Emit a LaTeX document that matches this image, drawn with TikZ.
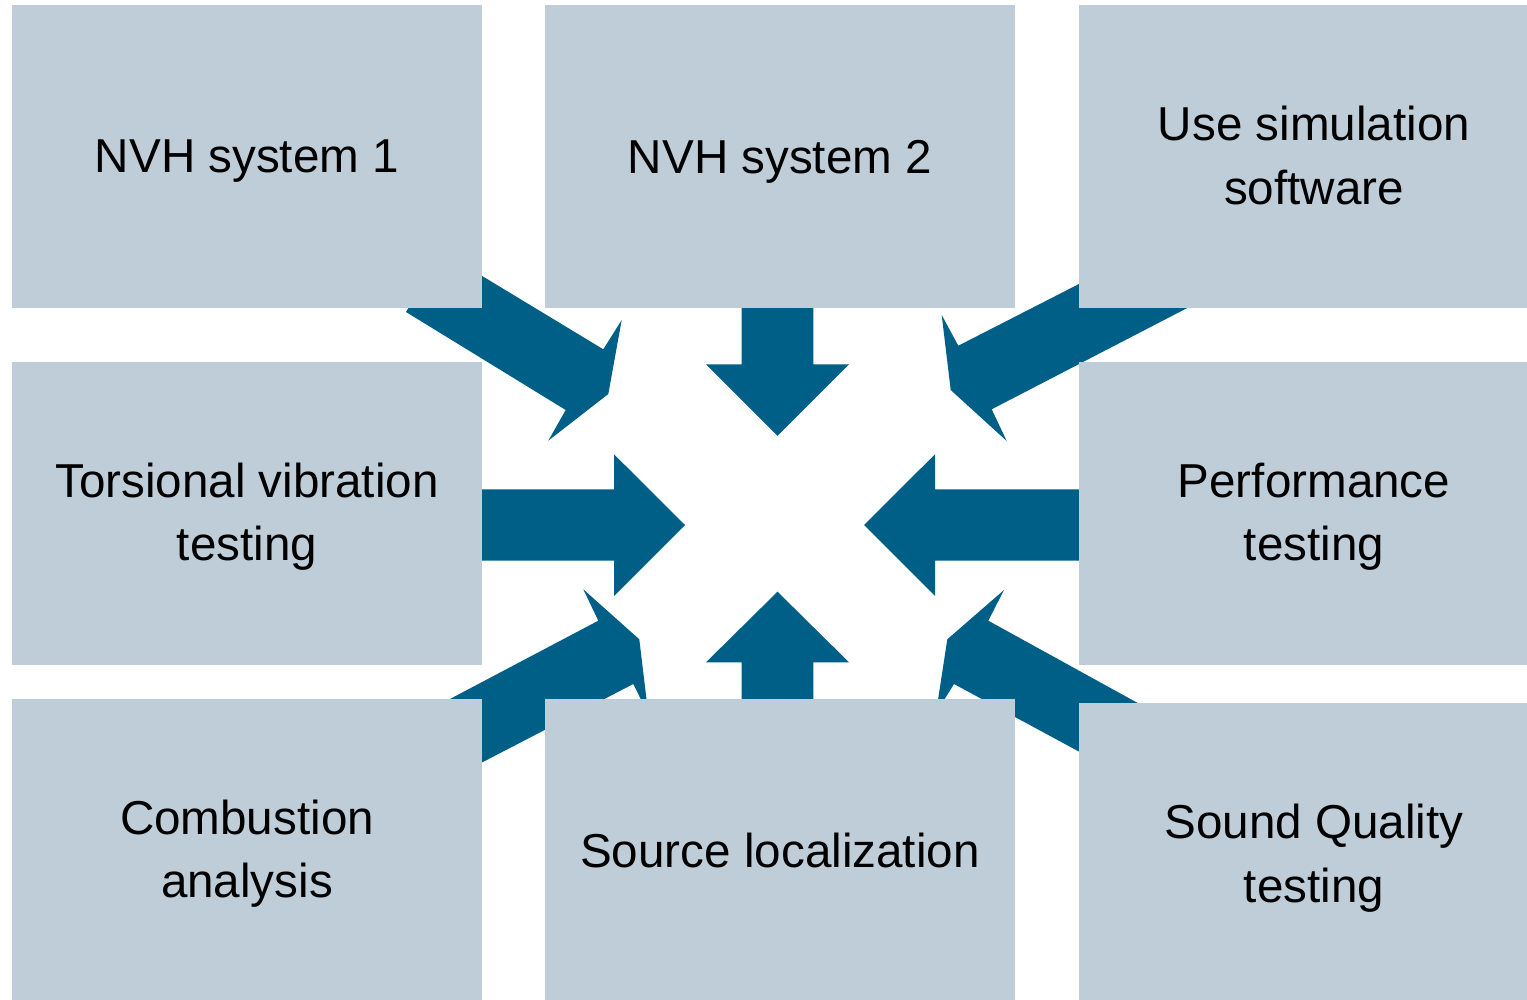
\documentclass[tikz,border=0pt]{standalone}
\usepackage{fontspec}
\setmainfont{Liberation Sans}
\definecolor{panelblue}{RGB}{191,205,216}
\definecolor{flowblue}{RGB}{0,95,135}
\begin{document}
\begin{tikzpicture}[x=1pt,y=-1pt,
  panel/.style={fill=panelblue, draw=none, inner sep=0pt,
                minimum width=470pt, minimum height=303pt},
  caption/.style={align=center, text=black, inner sep=0pt,
                  font=\fontsize{47.6}{63.5}\selectfont},
  blockarrow/.style={fill=flowblue, draw=none}]
\clip (0,0) rectangle (1527,1000);
\fill[white] (0,0) rectangle (1527,1000);

% block arrows converging on the centre (drawn first, panels sit on top)
% top-left, pointing down-right
\fill[blockarrow] (442.5,252) -- (603.3,349.3) -- (621.7,320) -- (608.3,394)
  -- (548.3,440.7) -- (565.7,410) -- (406,312) -- cycle;
% top, pointing down
\fill[blockarrow] (741.7,290) -- (741.7,364.3) -- (706,364.3) -- (777.5,435.8)
  -- (849,364.3) -- (813.3,364.3) -- (813.3,290) -- cycle;
% top-right, pointing down-left
\fill[blockarrow] (1165,240) -- (958.3,345.7) -- (941.7,315) -- (950.7,390)
  -- (1006.7,441) -- (991.7,409.3) -- (1200,301.4) -- cycle;
% left, pointing right
\fill[blockarrow] (470,489.3) -- (614,489.3) -- (614,454.3) -- (685,525)
  -- (614,596) -- (614,560.7) -- (470,560.7) -- cycle;
% right, pointing left
\fill[blockarrow] (1090,489.3) -- (935,489.3) -- (935,454.3) -- (864,525)
  -- (935,596) -- (935,560.7) -- (1090,560.7) -- cycle;
% bottom-left, pointing up-right
\fill[blockarrow] (420,714.8) -- (598.3,620.7) -- (583.3,589.3) -- (639.3,639.3)
  -- (648.3,714.3) -- (633.3,684) -- (460,773.9) -- cycle;
% bottom, pointing up
\fill[blockarrow] (741.7,715) -- (741.7,662.3) -- (706,662.3) -- (777.5,591.7)
  -- (849,662.3) -- (813.3,662.3) -- (813.3,715) -- cycle;
% bottom-right, pointing up-left
\fill[blockarrow] (947.3,639.3) -- (1004,590) -- (988.3,620.7) -- (1170,720.8)
  -- (1120,773.8) -- (954,684) -- (936,713) -- cycle;

% panels
\node[panel] (p1) at (247,156.5) {};
\node[panel] (p2) at (780,156.5) {};
\node[panel] (p3) at (1314,156.5) {};
\node[panel] (p4) at (247,513.5) {};
\node[panel] (p5) at (1314,513.5) {};
\node[panel] (p6) at (247,850.5) {};
\node[panel] (p7) at (780,850.5) {};
\node[panel] (p8) at (1314,854.5) {};

% captions
\node[caption] (t1) at (247,161.5) {NVH system 1};
\node[caption] (t2) at (780,161.5) {NVH system 2};
\node[caption] (t3) at (1314,155.5) {Use simulation\\software};
\node[caption] (t4) at (247,516.5) {Torsional vibration\\testing};
\node[caption] (t5) at (1314,516.5) {Performance\\testing};
\node[caption] (t6) at (247,853.5) {Combustion\\analysis};
\node[caption] (t7) at (780,850.5) {Source localization};
\node[caption] (t8) at (1314,858) {Sound Quality\\testing};
\end{tikzpicture}
\end{document}
